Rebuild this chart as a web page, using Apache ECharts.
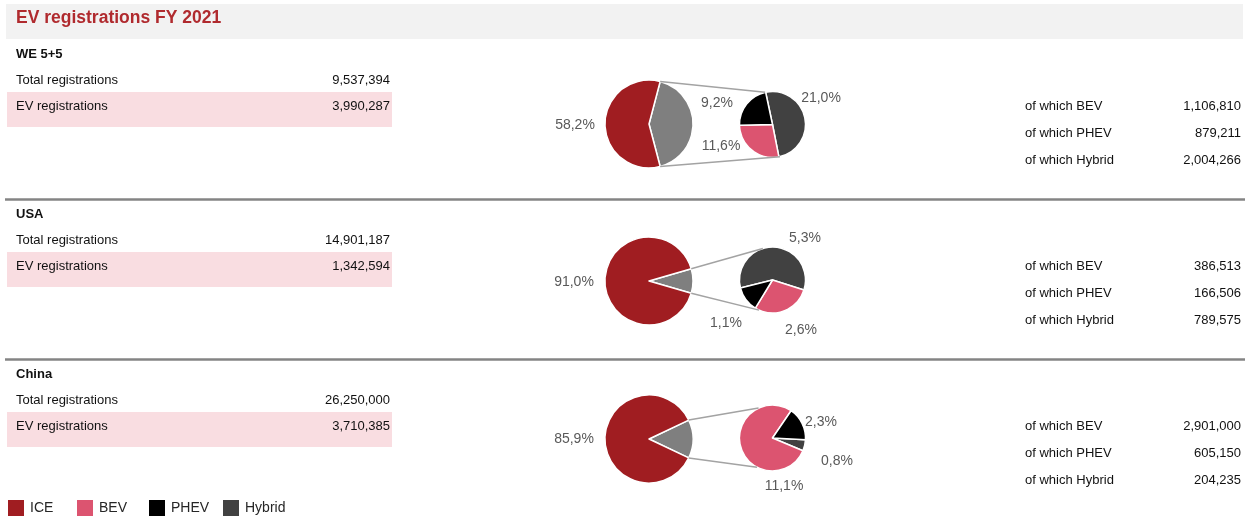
<!DOCTYPE html>
<html>
<head>
    <meta charset="utf-8">
    <title>EV registrations FY 2021</title>
    <script src="https://cdn.jsdelivr.net/npm/echarts@6/dist/echarts.min.js"></script>
    <style>
        body { margin: 0; background: #fff; }
        #chart { width: 1250px; height: 518px; }
    </style>
</head>
<body>
<div id="chart"></div>
<script type="text/javascript">
    // data
    var regions = ['WE 5+5', 'USA', 'China'];
    var totalRegs = [9537394, 14901187, 26250000];
    var evRegs = [3990287, 1342594, 3710385];
    var bevRegs = [1106810, 386513, 2901000];
    var phevRegs = [879211, 166506, 605150];
    var hybridRegs = [2004266, 789575, 204235];
    var legendNames = ['ICE', 'BEV', 'PHEV', 'Hybrid'];

    var colors = {ICE: '#a01d21', EV: '#7f7f7f', BEV: '#dc5470', PHEV: '#000000', Hybrid: '#414141'};
    var FONT = "'Liberation Sans', Arial, sans-serif";

    // layout (pixels)
    var secOffset = [0, 160, 320];
    var mainCX = 649, mainR = 44, mainCY = [124, 281, 439];
    var smallCX = 772.5, smallR = 33, smallCY = [124.5, 280, 438];
    var smallStart = [102, 194, 357];
    var attachTop = [103, 107, 115];
    var attachBottom = [-77, -114, -118];
    var legendLeft = [6, 75, 147, 221];
    var labelOffsets = [
        {ICE: [-74, 1], PHEV: [-55.5, -21.5], BEV: [-51.5, 21.5], Hybrid: [48.5, -26.5]},
        {ICE: [-75, 1], Hybrid: [32.5, -42], PHEV: [-46.5, 43], BEV: [28.5, 50]},
        {ICE: [-75, 0], PHEV: [48.5, -16], Hybrid: [64.5, 23], BEV: [11.5, 48]}
    ];

    function fmt(n) { return n.toLocaleString('en-US'); }
    function pct(v, t) { return (v / t * 100).toFixed(1).replace('.', ',') + '%'; }
    function txt(x, y, text, opt) {
        opt = opt || {};
        return {
            type: 'text', x: x, y: y, silent: true,
            style: {
                text: text,
                font: (opt.bold ? 'bold ' : '') + (opt.size || 13) + 'px ' + FONT,
                fill: opt.color || '#111',
                textAlign: opt.align || 'left',
                textVerticalAlign: 'middle'
            }
        };
    }
    function placeLabels(cx, cy, names, offs) {
        return function (p) {
            var d = offs[names[p.dataIndex]] || [0, 0];
            return {x: cx + d[0], y: cy + d[1], align: 'center', verticalAlign: 'middle'};
        };
    }

    var graphics = [];
    graphics.push({type: 'rect', shape: {x: 6, y: 4, width: 1237, height: 35}, style: {fill: '#f2f2f2'}, silent: true});
    graphics.push(txt(16, 18, 'EV registrations FY 2021', {bold: true, size: 17.5, color: '#b02a2e'}));

    var series = [];
    regions.forEach(function (reg, i) {
        var o = secOffset[i];
        var total = totalRegs[i];
        graphics.push({type: 'rect', shape: {x: 7, y: 92 + o, width: 385, height: 35}, style: {fill: '#f9dde1'}, silent: true});
        graphics.push(txt(16, 54 + o, reg, {bold: true}));
        graphics.push(txt(16, 80 + o, 'Total registrations'));
        graphics.push(txt(390, 80 + o, fmt(total), {align: 'right'}));
        graphics.push(txt(16, 106 + o, 'EV registrations'));
        graphics.push(txt(390, 106 + o, fmt(evRegs[i]), {align: 'right'}));
        [['of which BEV', bevRegs[i]], ['of which PHEV', phevRegs[i]], ['of which Hybrid', hybridRegs[i]]].forEach(function (r, k) {
            graphics.push(txt(1025, 106 + o + 27 * k, r[0]));
            graphics.push(txt(1241, 106 + o + 27 * k, fmt(r[1]), {align: 'right'}));
        });
        if (i < regions.length - 1) {
            graphics.push({type: 'line', shape: {x1: 5, y1: 199.5 + o, x2: 1245, y2: 199.5 + o},
                style: {stroke: '#848484', lineWidth: 2.5}, silent: true});
        }

        // connector lines between the EV slice and the second pie
        var h = evRegs[i] / total * Math.PI;
        var ex = mainCX + mainR * Math.cos(h);
        var aT = attachTop[i] * Math.PI / 180, aB = attachBottom[i] * Math.PI / 180;
        graphics.push({type: 'line', z: 100, silent: true,
            shape: {x1: ex, y1: mainCY[i] - mainR * Math.sin(h), x2: smallCX + smallR * Math.cos(aT), y2: smallCY[i] - smallR * Math.sin(aT)},
            style: {stroke: '#a3a3a3', lineWidth: 1.5}});
        graphics.push({type: 'line', z: 100, silent: true,
            shape: {x1: ex, y1: mainCY[i] + mainR * Math.sin(h), x2: smallCX + smallR * Math.cos(aB), y2: smallCY[i] - smallR * Math.sin(aB)},
            style: {stroke: '#a3a3a3', lineWidth: 1.5}});

        var labelCommon = {
            show: true, position: 'outside', color: '#595959', fontSize: 14, fontFamily: FONT,
            formatter: function (p) { return pct(p.value, total); }
        };

        // main pie: EV slice centred on the right
        var mainNames = ['EV', 'ICE'];
        var mainVals = [evRegs[i], total - evRegs[i]];
        series.push({
            type: 'pie', center: [mainCX, mainCY[i]], radius: mainR,
            startAngle: evRegs[i] / total * 180, clockwise: true,
            avoidLabelOverlap: false, animation: false, silent: true,
            itemStyle: {borderColor: '#fff', borderWidth: 1.5},
            label: labelCommon, labelLine: {show: false},
            labelLayout: placeLabels(mainCX, mainCY[i], mainNames, labelOffsets[i]),
            data: mainNames.map(function (n, k) {
                var d = {name: n, value: mainVals[k], itemStyle: {color: colors[n]}};
                if (n === 'EV') d.label = {show: false};
                return d;
            })
        });

        // second pie: EV breakdown
        var smallNames = ['Hybrid', 'BEV', 'PHEV'];
        var smallVals = [hybridRegs[i], bevRegs[i], phevRegs[i]];
        series.push({
            type: 'pie', center: [smallCX, smallCY[i]], radius: smallR,
            startAngle: smallStart[i], clockwise: true,
            avoidLabelOverlap: false, animation: false, silent: true,
            itemStyle: {borderColor: '#fff', borderWidth: 1.5},
            label: labelCommon, labelLine: {show: false},
            labelLayout: placeLabels(smallCX, smallCY[i], smallNames, labelOffsets[i]),
            data: smallNames.map(function (n, k) {
                return {name: n, value: smallVals[k], itemStyle: {color: colors[n]}};
            })
        });
    });

    // one legend per entry so the entries sit on a fixed pitch
    var legends = legendNames.map(function (n, k) {
        return {
            data: [n], left: legendLeft[k], top: 498, padding: 0,
            itemWidth: 18, itemHeight: 18, icon: 'rect', selectedMode: false,
            textStyle: {fontSize: 14, color: '#262626', fontFamily: FONT}
        };
    });

    var myChart = echarts.init(document.getElementById('chart'));
    myChart.setOption({
        animation: false,
        legend: legends,
        graphic: graphics,
        series: series
    });
</script>
</body>
</html>
